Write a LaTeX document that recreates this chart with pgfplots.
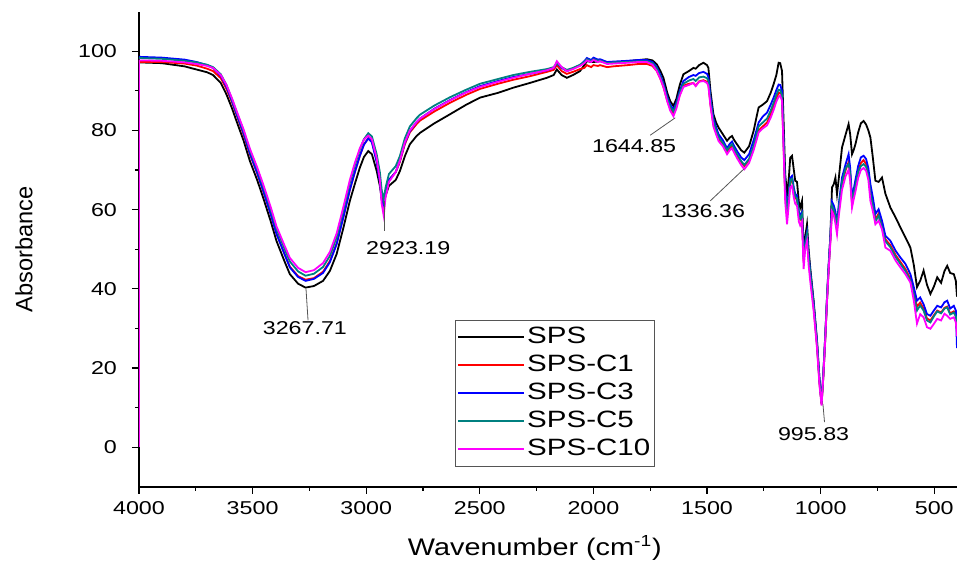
\documentclass[border=0pt]{standalone}
\usepackage{fontspec}
\setmainfont{Liberation Sans}
\newfontfamily\wide[FakeStretch=1.25]{Liberation Sans}
\newfontfamily\wideb[FakeStretch=1.2]{Liberation Sans}
\usepackage{pgfplots}
\usepackage{pgfplotstable}
\pgfplotsset{compat=1.18}
\definecolor{cteal}{RGB}{0,128,128}
\definecolor{cmag}{RGB}{255,0,255}
\definecolor{cred}{RGB}{255,0,0}
\definecolor{cblue}{RGB}{0,0,255}
\definecolor{annot}{RGB}{85,85,85}
\pgfplotstableread{
x sps c1 c3 c5 c10
4000 97.2 97.3 98.6 98.3 97.7
3900 97.0 97.3 98.4 98.1 97.6
3800 96.2 96.9 97.9 97.6 97.2
3747 95.4 96.4 97.3 97.2 96.8
3700 94.7 95.6 96.5 96.6 96.3
3674 94.0 95.0 95.8 96.0 95.8
3640 92.0 93.2 93.8 94.2 94.0
3615 89.1 90.5 91.0 91.5 91.5
3590 85.5 87.0 87.3 87.8 88.0
3571 82.4 84.0 84.2 84.8 85.0
3540 77.5 79.0 79.3 80.0 80.3
3512 72.3 74.0 74.2 75.0 75.4
3480 67.5 69.2 69.3 70.3 70.7
3454 63.1 64.8 64.9 66.0 66.5
3420 57.0 58.8 58.8 60.0 60.6
3395 52.1 54.0 53.9 55.2 55.8
3360 47.0 48.9 48.8 50.2 51.0
3336 43.7 45.6 45.4 46.9 47.8
3300 41.3 43.2 43.0 44.4 45.3
3267 40.3 42.3 42.0 43.3 44.2
3230 40.7 42.7 42.5 43.8 44.7
3190 42.0 44.3 44.0 45.5 46.5
3160 44.5 47.0 46.7 48.3 49.3
3130 48.8 51.5 51.3 53.0 54.0
3100 55.5 58.3 58.2 60.0 60.8
3072 62.2 65.0 65.0 66.8 67.5
3050 66.5 69.5 69.5 71.2 71.8
3028 70.6 73.6 73.6 75.2 75.5
3010 73.3 76.5 76.4 77.8 77.7
2991 74.8 78.0 78.0 79.3 78.7
2975 74.0 77.2 77.0 78.5 77.8
2954 69.8 72.5 72.0 74.0 73.0
2940 66.0 67.5 67.0 69.5 67.5
2932 63.0 63.0 62.5 65.0 61.5
2923 61.5 60.5 60.0 62.5 58.5
2915 63.5 64.0 64.0 65.5 63.0
2900 66.0 67.5 67.5 69.0 67.0
2870 67.5 69.5 69.5 71.0 69.5
2852 69.7 72.0 72.3 73.5 72.3
2830 73.5 76.5 76.8 78.0 77.0
2808 76.5 79.5 79.8 81.0 80.0
2780 78.5 81.5 82.0 83.0 82.0
2763 79.4 82.5 83.0 84.0 83.0
2700 81.8 84.8 85.5 86.3 85.4
2631 84.1 87.0 87.7 88.4 87.6
2560 86.5 89.0 89.7 90.3 89.6
2499 88.3 90.5 91.2 91.8 91.0
2420 89.5 91.8 92.5 93.0 92.3
2353 90.8 92.8 93.5 94.0 93.3
2280 92.0 93.7 94.3 94.8 94.3
2205 93.3 94.8 95.2 95.5 95.2
2175 94.0 95.3 95.8 96.0 95.8
2161 95.4 96.5 97.0 97.0 97.5
2140 94.0 95.0 95.8 96.0 96.0
2117 93.3 94.3 95.0 95.3 95.0
2090 94.0 94.8 95.6 95.8 95.5
2059 95.0 95.5 96.5 96.6 96.3
2040 96.5 95.8 97.5 97.3 97.0
2029 97.5 96.5 98.3 98.0 97.7
2010 97.3 96.0 97.8 97.5 97.3
2000 97.3 96.5 98.4 98.0 97.8
1980 97.4 96.3 97.9 97.6 97.3
1971 97.5 96.5 98.0 97.7 97.5
1940 97.0 96.0 97.3 97.0 96.8
1912 97.1 96.2 97.4 97.2 96.9
1850 97.5 96.5 97.6 97.3 97.1
1800 97.8 96.8 97.8 97.5 97.3
1765 98.0 96.8 97.8 97.5 97.3
1740 97.7 96.3 97.3 97.0 96.6
1721 96.7 95.0 96.0 95.6 95.0
1705 95.0 93.0 94.0 93.5 93.0
1692 93.3 91.0 92.0 91.5 91.0
1675 89.5 87.5 88.5 88.0 87.3
1662 87.4 85.5 86.5 86.0 85.0
1648 86.2 84.2 85.3 84.8 83.6
1635 88.0 86.0 87.0 86.5 85.5
1620 91.5 89.0 90.0 89.5 88.8
1604 94.2 91.3 92.5 91.8 91.0
1580 95.0 91.8 93.5 92.6 91.5
1560 95.8 92.0 94.0 93.0 92.0
1550 95.6 91.3 93.8 92.5 91.2
1535 96.5 92.4 94.5 93.4 92.3
1516 97.1 92.7 94.8 93.6 92.5
1500 96.5 92.3 94.3 93.2 92.0
1494 95.8 91.5 93.5 92.5 91.2
1485 90.0 86.5 88.5 87.5 86.3
1472 84.1 81.5 83.0 82.2 81.0
1460 82.0 79.5 80.8 80.0 79.0
1449 80.7 77.8 79.0 78.3 77.3
1430 79.0 76.5 77.5 76.8 76.0
1412 77.4 74.5 75.5 75.0 74.0
1400 78.2 75.5 76.6 76.0 75.0
1390 78.6 76.0 77.2 76.5 75.5
1380 77.5 74.8 76.0 75.3 74.3
1368 76.5 73.5 74.8 74.0 73.0
1350 75.0 72.0 73.2 72.3 71.3
1336 74.4 71.0 72.5 71.3 70.2
1315 76.0 72.5 74.0 72.8 71.8
1295 79.9 75.5 77.5 76.2 75.0
1280 84.0 78.5 80.5 79.5 78.0
1273 85.8 80.0 82.0 81.0 79.5
1255 86.5 81.0 83.5 82.0 80.5
1236 87.4 82.0 84.5 83.0 81.3
1220 89.5 84.0 86.5 85.0 83.2
1207 91.7 86.0 88.3 87.0 85.2
1195 94.0 88.0 90.2 89.0 87.3
1185 97.1 89.5 91.6 90.3 88.5
1178 97.0 89.5 91.5 90.2 88.8
1170 95.0 88.0 90.0 88.8 87.5
1163 82.0 76.0 78.0 77.0 75.0
1156 69.0 63.5 65.5 64.5 62.0
1148 63.9 58.5 60.0 59.0 56.3
1140 68.0 63.0 64.5 63.5 61.5
1134 73.1 67.0 68.0 67.5 65.6
1126 73.6 67.5 68.5 67.8 66.0
1118 70.0 64.5 65.5 64.8 63.0
1112 67.3 63.0 64.0 63.3 61.5
1104 67.0 62.5 63.5 62.8 61.0
1096 62.0 58.5 59.5 58.8 57.0
1090 60.5 57.5 58.5 57.8 56.0
1082 62.2 58.5 59.3 58.8 57.0
1075 50.4 47.0 48.0 47.5 45.0
1068 53.0 51.0 52.0 51.3 50.0
1060 56.3 53.5 54.3 53.8 52.0
1053 50.0 47.5 48.5 48.0 46.0
1046 45.4 43.5 44.5 44.0 42.0
1031 37.0 35.5 36.5 36.0 34.5
1016 26.9 25.5 26.5 26.0 25.0
1005 17.0 16.0 17.0 16.5 15.5
996 10.8 11.0 11.5 11.2 10.5
988 18.0 18.5 19.0 18.8 18.0
980 27.0 27.5 28.0 27.8 27.0
972 37.0 37.5 38.0 37.8 37.0
965 45.0 45.0 46.0 45.5 44.5
957 53.8 52.5 53.5 53.0 52.0
950 65.6 60.5 62.0 61.0 59.5
942 66.5 59.5 61.0 60.0 58.5
935 68.1 58.0 59.5 58.5 56.5
928 63.9 55.0 56.5 55.5 53.8
920 68.0 60.0 61.5 60.5 58.5
906 75.7 66.5 68.1 67.0 65.0
890 79.0 70.0 71.5 70.5 68.5
877 81.6 72.0 74.0 71.5 70.0
870 79.0 69.0 70.5 69.0 67.3
862 74.0 62.0 63.0 61.8 60.5
855 75.0 64.0 65.0 64.0 62.5
847 76.5 66.0 67.5 66.0 64.5
835 79.5 69.5 71.0 69.5 68.0
823 81.8 71.8 73.2 71.0 70.0
811 82.4 72.5 73.6 71.5 70.5
800 81.5 71.5 72.8 70.8 69.8
790 80.0 69.0 70.5 68.5 67.5
781 78.2 64.5 66.4 64.0 62.2
770 73.0 61.5 63.0 61.0 59.5
759 67.3 57.5 58.9 57.0 56.3
745 67.0 59.0 60.1 58.5 57.2
730 68.1 56.0 57.2 55.5 55.0
715 64.0 52.5 53.4 52.0 50.4
693 60.5 51.0 52.1 50.5 49.6
670 58.0 48.5 49.6 48.0 47.1
649 55.5 46.8 47.9 46.3 45.4
627 53.0 45.0 46.3 44.5 43.7
605 50.4 42.5 43.7 42.0 41.6
590 46.0 39.0 40.4 38.5 37.0
576 40.4 35.5 37.0 34.5 31.2
562 42.0 36.5 37.8 35.8 33.6
547 44.6 35.0 36.1 34.5 32.8
532 41.0 32.5 33.6 32.0 30.3
517 38.7 32.0 33.2 31.5 29.9
502 40.5 33.3 34.5 33.0 31.1
487 42.9 34.5 35.7 34.3 32.4
470 41.5 34.0 35.3 33.8 32.0
455 44.5 35.2 36.6 35.0 33.7
443 45.8 35.5 37.0 35.3 33.2
430 44.0 33.8 35.0 33.5 32.4
414 43.7 34.3 35.7 34.0 32.8
405 42.0 33.5 34.5 33.0 31.5
400 38.0 30.0 25.0 29.0 28.0
}\spectra
\begin{document}
\begin{tikzpicture}
\useasboundingbox (-69.5pt,-38.65pt) rectangle (410.5pt,243.35pt);
\begin{axis}[
  at={(0pt,0pt)}, anchor=south west,
  scale only axis, width=409pt, height=237.5pt,
  x dir=reverse,
  xmin=400, xmax=4000, ymin=-10, ymax=110,
  axis x line*=bottom, axis y line*=left,
  axis line style={line width=0.8pt,-},
  xtick={500,1000,...,4000}, ytick={0,20,...,100},
  minor x tick num=1, minor y tick num=1,
  tick align=outside,
  major tick length=3.5pt, minor tick length=2pt,
  every tick/.style={black, line width=0.6pt},
  /pgf/number format/assume math mode=true,
  /pgf/number format/1000 sep={},
  ticklabel style={font=\wide\fontsize{9.3}{11}\selectfont},
  yticklabel style={xshift=-4pt},
  xticklabel style={yshift=-0.5pt},
  xlabel={Wavenumber (cm\textsuperscript{-1})},
  ylabel={Absorbance},
  xlabel style={font=\wideb\fontsize{12}{14}\selectfont, at={(axis description cs:0.484,-0.129)}, anchor=center},
  ylabel style={font=\fontsize{11.8}{14}\selectfont, at={(axis description cs:-0.1406,0.5)}, anchor=center, rotate=0},
  legend style={at={(axis description cs:0.386,0.352)}, anchor=north west,
    draw=annot, line width=0.5pt, font=\wide\fontsize{11.8}{13}\selectfont,
    row sep=0pt, inner xsep=1pt, inner ysep=1.5pt,
    nodes={inner sep=1pt, text height=9.4pt, text depth=2.6pt}},
  legend cell align=left,
  legend image code/.code={\draw[#1, line width=1pt] (0pt,0pt) -- (33pt,0pt);},
  every axis plot/.append style={line width=0.9pt},
]
\addplot[black] table[x=x, y=sps] {\spectra};
\addlegendentry{SPS}
\addplot[cred] table[x=x, y=c1] {\spectra};
\addlegendentry{SPS-C1}
\addplot[cblue] table[x=x, y=c3] {\spectra};
\addlegendentry{SPS-C3}
\addplot[cteal] table[x=x, y=c5] {\spectra};
\addlegendentry{SPS-C5}
\addplot[cmag] table[x=x, y=c10] {\spectra};
\addlegendentry{SPS-C10}
\addplot[cmag, forget plot] coordinates {(4000,0) (4000,97.7)};
\draw[annot, line width=0.4pt] (axis cs:3265,40) -- (axis cs:3256,32);
\node[font=\wide\fontsize{9.3}{11}\selectfont, inner sep=0pt] at (axis cs:3270,30.1) {3267.71};
\draw[annot, line width=0.4pt] (axis cs:2918,62.2) -- (axis cs:2918,54.6);
\node[font=\wide\fontsize{9.3}{11}\selectfont, inner sep=0pt] at (axis cs:2815,50.3) {2923.19};
\draw[annot, line width=0.4pt] (axis cs:1640,83.2) -- (axis cs:1750,78.8);
\node[font=\wide\fontsize{9.3}{11}\selectfont, inner sep=0pt] at (axis cs:1821,76.1) {1644.85};
\draw[annot, line width=0.4pt] (axis cs:1339,70.2) -- (axis cs:1486,62.2);
\node[font=\wide\fontsize{9.3}{11}\selectfont, inner sep=0pt] at (axis cs:1518,59.7) {1336.36};
\draw[annot, line width=0.4pt] (axis cs:990,10.9) -- (axis cs:983,6.3);
\node[font=\wide\fontsize{9.3}{11}\selectfont, inner sep=0pt] at (axis cs:1031,3.2) {995.83};
\end{axis}
\end{tikzpicture}
\end{document}
